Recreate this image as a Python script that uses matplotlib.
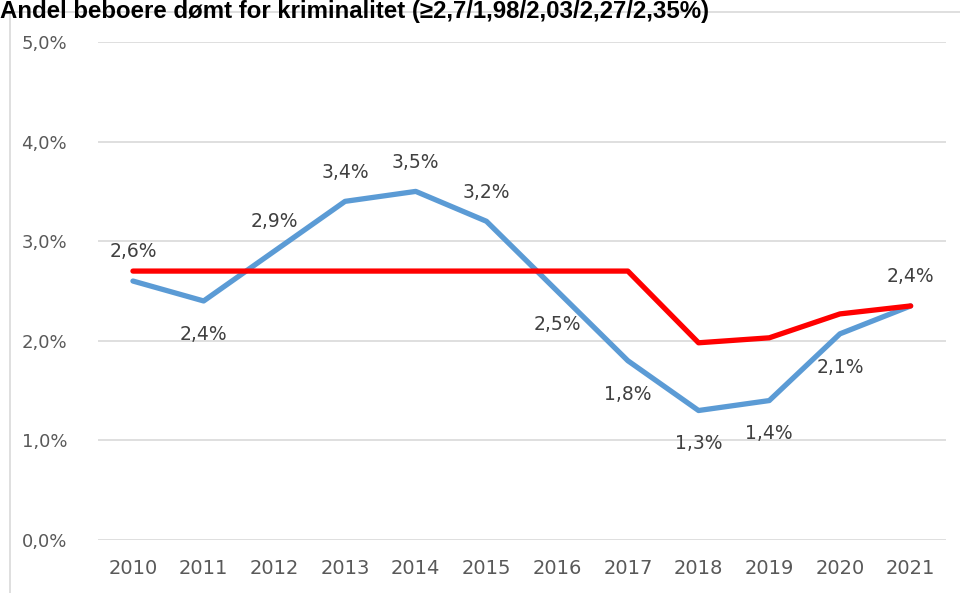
import matplotlib
matplotlib.use("Agg")
import matplotlib.pyplot as plt
from matplotlib.patches import Rectangle
from matplotlib.ticker import FuncFormatter

years = [2010, 2011, 2012, 2013, 2014, 2015, 2016, 2017, 2018, 2019, 2020, 2021]
blue = [2.6, 2.4, 2.9, 3.4, 3.5, 3.2, 2.5, 1.8, 1.3, 1.4, 2.07, 2.35]
blue_labels = ["2,6%", "2,4%", "2,9%", "3,4%", "3,5%", "3,2%", "2,5%", "1,8%", "1,3%", "1,4%", "2,1%", "2,4%"]
red = [2.7, 2.7, 2.7, 2.7, 2.7, 2.7, 2.7, 2.7, 1.98, 2.03, 2.27, 2.35]
label_pos = ["above", "below", "above", "above", "above", "above", "below", "below", "below", "below", "below", "above"]
title = "Andel beboere dømt for kriminalitet (≥2,7/1,98/2,03/2,27/2,35%)"

fig = plt.figure(figsize=(9.6, 5.93), dpi=100)
fig.patches.append(Rectangle((10/960, -0.01), 1.0, 1 - 12/593 + 0.01, transform=fig.transFigure,
                             fill=False, edgecolor="#D9D9D9", linewidth=1.2))
ax = fig.add_axes([97.6/960, 53/593, (946-97.6)/960, (540-42)/593])
x = list(range(len(years)))
ax.plot(x, blue, color="#5B9BD5", linewidth=3.8, solid_capstyle="round", solid_joinstyle="round", zorder=3)
ax.plot(x, red, color="#FF0000", linewidth=3.8, solid_capstyle="round", solid_joinstyle="round", zorder=4)
for xi, v, lab, pos in zip(x, blue, blue_labels, label_pos):
    off = 21 if pos == "above" else -24
    ax.annotate(lab, (xi, v), xytext=(0, off), textcoords="offset points",
                ha="center", va="center", fontsize=13.5, color="#404040")
ax.set_xlim(-0.5, len(years) - 0.5)
ax.set_ylim(0, 5)
ax.set_yticks([0, 1, 2, 3, 4, 5])
ax.yaxis.set_major_formatter(FuncFormatter(lambda v, p: f"{v:.1f}%".replace(".", ",")))
ax.set_xticks(x)
ax.set_xticklabels([str(y) for y in years], family=["Liberation Sans Narrow", "DejaVu Sans"])
ax.tick_params(axis="both", length=0, labelsize=13, labelcolor="#595959")
ax.tick_params(axis="x", labelsize=14, pad=14)
ax.tick_params(axis="y", pad=22)
ax.grid(axis="y", color="#D9D9D9", linewidth=1.2)
ax.set_axisbelow(True)
for s in ax.spines.values():
    s.set_visible(False)
fig.text(0.0, 1.0, title, fontsize=17.3, fontweight="bold", color="black", va="top", ha="left",
         family=["Liberation Sans", "DejaVu Sans"])
fig.savefig("out.png", dpi=100)
